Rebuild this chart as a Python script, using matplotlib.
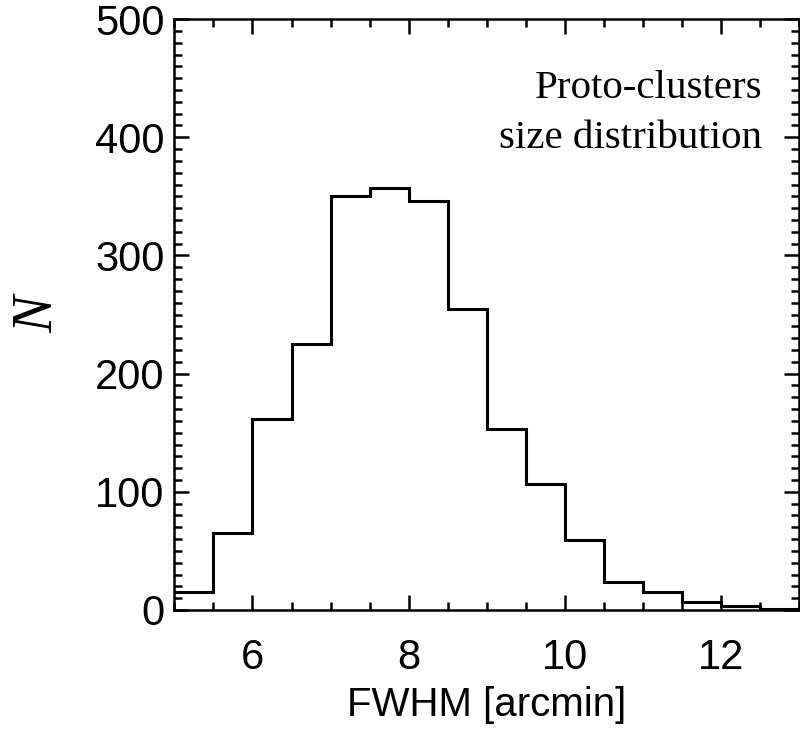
import matplotlib
matplotlib.use('Agg')
import matplotlib.pyplot as plt
import numpy as np
from matplotlib.ticker import MultipleLocator

# histogram of proto-cluster sizes, bins of 0.5 arcmin
bin_edges = [5.0, 5.5, 6.0, 6.5, 7.0, 7.5, 8.0, 8.5, 9.0, 9.5, 10.0,
             10.5, 11.0, 11.5, 12.0, 12.5, 13.0]
counts = [15, 65, 162, 225, 350, 357, 346, 255, 153, 107, 59, 24, 15, 7, 3, 1]

plt.rcParams['font.family'] = 'Liberation Sans'

fig = plt.figure(figsize=(8, 7.34), dpi=100)
ax = fig.add_axes([0.218, 0.169, 0.781, 0.805])

ax.stairs(counts, bin_edges, baseline=None, color='black', linewidth=2.2)

ax.set_xlim(5, 13)
ax.set_ylim(0, 500)
ax.xaxis.set_major_locator(MultipleLocator(2))
ax.xaxis.set_minor_locator(MultipleLocator(0.5))
ax.yaxis.set_major_locator(MultipleLocator(100))
ax.yaxis.set_minor_locator(MultipleLocator(10))
ax.tick_params(which='both', direction='in', top=True, right=True, width=1.8, labelsize=30)
ax.tick_params(which='major', length=11)
ax.tick_params(which='minor', length=6)
ax.tick_params(axis='x', pad=20)
ax.tick_params(axis='y', pad=7)
for s in ax.spines.values():
    s.set_linewidth(1.8)

ax.set_xlabel('FWHM [arcmin]', fontsize=29, labelpad=6)
ax.set_ylabel('N', fontsize=40, labelpad=22, style='italic',
              fontfamily='Liberation Serif')

ax.text(12.53, 433, 'Proto-clusters', ha='right', va='baseline',
        fontsize=29.5, fontfamily='Liberation Serif')
ax.text(12.53, 391, 'size distribution', ha='right', va='baseline',
        fontsize=29.5, fontfamily='Liberation Serif')

fig.savefig('out.png', dpi=100)
